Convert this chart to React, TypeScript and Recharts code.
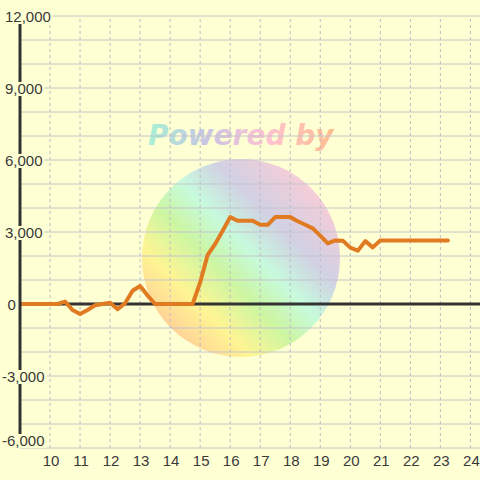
import React from 'react';
import { LineChart, Line, XAxis, YAxis, CartesianGrid, ReferenceLine } from 'recharts';

const hours = [
  9, 9.25, 9.5, 9.75, 10, 10.25, 10.5, 10.75, 11, 11.25, 11.5, 11.75,
  12, 12.25, 12.5, 12.75, 13, 13.25, 13.5, 13.75, 14, 14.25, 14.5, 14.75,
  15, 15.25, 15.5, 15.75, 16, 16.25, 16.5, 16.75, 17, 17.25, 17.5, 17.75,
  18, 18.25, 18.5, 18.75, 19, 19.25, 19.5, 19.75, 20, 20.25, 20.5, 20.75,
  21, 21.25, 21.5, 21.75, 22, 22.25, 22.5, 22.75, 23, 23.25,
];

const values = [
  0, 0, 0, 0, 0, 0, 100, -250, -420, -250, -50, 0,
  50, -220, 30, 550, 750, 350, 0, 0, 0, 0, 0, 0,
  900, 2050, 2500, 3050, 3620, 3470, 3470, 3470, 3300, 3300, 3620, 3620,
  3620, 3450, 3300, 3150, 2850, 2530, 2650, 2640, 2350, 2220, 2620, 2360,
  2650, 2650, 2650, 2650, 2650, 2650, 2650, 2650, 2650, 2650,
];

const xTicks = [10, 11, 12, 13, 14, 15, 16, 17, 18, 19, 20, 21, 22, 23, 24];
const yTicks = [-6000, -5000, -4000, -3000, -2000, -1000, 0, 1000, 2000, 3000, 4000, 5000, 6000, 7000, 8000, 9000, 10000, 11000, 12000];

const data = hours.map((h, i) => ({ h, v: values[i] }));

const BG = '#ffffd4';
const FONT = '"Liberation Sans", Arial, sans-serif';
const TXT = '#3a3a3a';

const fmt = (n: number) => {
  const s = Math.abs(n).toString().replace(/\B(?=(\d{3})+(?!\d))/g, ',');
  return (n < 0 ? '-' : '') + s;
};

const textWidth = (s: string) => {
  let w = 0;
  for (const c of s) {
    if (c === ',') w += 4.17;
    else if (c === '-') w += 5.0;
    else w += 8.34;
  }
  return w;
};

const YTick = (props: any) => {
  const { y, payload } = props;
  const v = payload.value as number;
  if (v % 3000 !== 0) return null;
  const label = fmt(v);
  const tx = v < 0 ? 2 : v === 0 ? 7.5 : 5;
  const c = v === -6000 ? y - 7 : y + 1;
  const w = textWidth(label);
  return (
    <g>
      <rect x={tx - 1} y={c - 7} width={w + 3} height={14} fill={BG} />
      <text x={tx} y={c + 5.4} fontSize={15} fontFamily={FONT} fill={TXT} textAnchor="start">
        {label}
      </text>
    </g>
  );
};

const XTick = (props: any) => {
  const { x, payload } = props;
  return (
    <text x={x + 1} y={466} fontSize={15} fontFamily={FONT} fill={TXT} textAnchor="middle">
      {payload.value}
    </text>
  );
};

const Watermark = () => (
  <svg width={480} height={480} style={{ position: 'absolute', left: 0, top: 0 }}>
    <defs>
      <linearGradient id="wmCircle" x1="0.1" y1="0.9" x2="0.9" y2="0.1">
        <stop offset="0" stopColor="#ffa878" />
        <stop offset="0.22" stopColor="#fff070" />
        <stop offset="0.4" stopColor="#b0f088" />
        <stop offset="0.55" stopColor="#a8f8e0" />
        <stop offset="0.72" stopColor="#b8b8ec" />
        <stop offset="1" stopColor="#ffb0d4" />
      </linearGradient>
      <linearGradient id="wmText" x1="0" y1="0" x2="1" y2="0">
        <stop offset="0" stopColor="#a0f0d4" />
        <stop offset="0.3" stopColor="#c0c0e4" />
        <stop offset="0.62" stopColor="#ffbcd4" />
        <stop offset="1" stopColor="#ffb884" />
      </linearGradient>
    </defs>
    <circle cx={241} cy={258} r={99} fill="url(#wmCircle)" opacity={0.65} />
    <text
      x={148}
      y={145}
      fontSize={28}
      fontWeight="bold"
      fontStyle="italic"
      fontFamily='"DejaVu Sans", sans-serif'
      fill="url(#wmText)"
      opacity={0.9}
    >
      Powered by
    </text>
  </svg>
);

export default function App() {
  return (
    <div style={{ position: 'absolute', left: 0, top: 0, width: 480, height: 480, background: BG, overflow: 'hidden' }}>
      <Watermark />
      <div style={{ position: 'absolute', left: 0, top: 0 }}>
        <LineChart width={480} height={480} data={data} margin={{ top: 16, right: 0, bottom: 0, left: 0 }}>
          <CartesianGrid horizontal={true} vertical={false} stroke="#c4c4cc" strokeWidth={1} />
          <XAxis
            dataKey="h"
            type="number"
            domain={[9, 24.32]}
            ticks={xTicks}
            axisLine={false}
            tickLine={false}
            height={32}
            tick={<XTick />}
            interval={0}
            allowDataOverflow
          />
          <YAxis
            type="number"
            domain={[-6000, 12000]}
            ticks={yTicks}
            width={20}
            axisLine={{ stroke: '#333333', strokeWidth: 3 }}
            tickLine={false}
            tick={<YTick />}
            interval={0}
          />
          {xTicks.map((t) => (
            <ReferenceLine key={t} x={t} stroke="#bcbcc4" strokeDasharray="3 3" strokeWidth={1} />
          ))}
          <ReferenceLine y={0} stroke="#333333" strokeWidth={3} />
          <Line
            type="linear"
            dataKey="v"
            stroke="#e07b22"
            strokeWidth={4}
            dot={false}
            strokeLinejoin="round"
            strokeLinecap="round"
            isAnimationActive={false}
          />
        </LineChart>
      </div>
    </div>
  );
}
